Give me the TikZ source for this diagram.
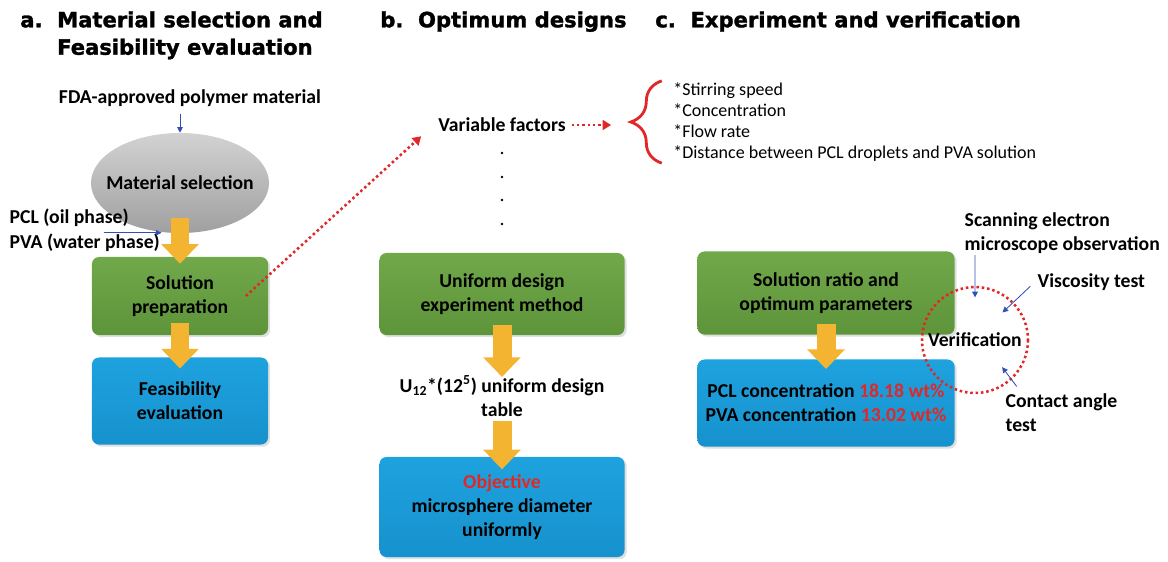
\documentclass[tikz,border=0pt]{standalone}
\usepackage{fontspec}
\setmainfont{Carlito}
\newfontfamily\headfont[FakeBold=1.5]{DejaVu Sans Bold}
\usetikzlibrary{positioning,calc,arrows.meta,shapes.geometric,shadows,decorations.pathreplacing}

\definecolor{boxgreen}{RGB}{112,168,74}
\definecolor{boxgreendark}{RGB}{94,148,58}
\definecolor{boxblue}{RGB}{30,162,222}
\definecolor{boxbluedark}{RGB}{22,146,206}
\definecolor{fatyellow}{RGB}{243,180,50}
\definecolor{dotred}{RGB}{225,40,40}
\definecolor{pointblue}{RGB}{50,80,180}

\tikzset{
  headline/.style={anchor=north west, align=left, inner sep=0pt, font=\headfont\fontsize{15}{19.5}\selectfont},
  txt/.style={align=center, inner sep=1pt, font=\bfseries\fontsize{14}{17}\selectfont},
  greenbox/.style={txt, rounded corners=5pt, top color=boxgreen, bottom color=boxgreendark,
    drop shadow={opacity=0.25, shadow xshift=1.5pt, shadow yshift=-1.5pt}},
  bluebox/.style={txt, rounded corners=5pt, top color=boxblue, bottom color=boxbluedark,
    drop shadow={opacity=0.25, shadow xshift=1.5pt, shadow yshift=-1.5pt}},
  fatarrow/.style={draw=fatyellow, line width=13.5pt, -{Triangle[width=26pt,length=14pt]}},
  reddots/.style={draw=dotred, line width=1.8pt, dotted, -{Triangle[width=7pt,length=6pt]}},
  pointer/.style={draw=pointblue, line width=0.6pt, -{Triangle[width=4pt,length=4pt]}},
}

\begin{document}
\begin{tikzpicture}[x=0.025cm, y=-0.025cm]
    \useasboundingbox (0,0) rectangle (1168,561);

    % Column titles
    \node[headline] (ta) at (20,11) {a.\ \ Material selection and\\\hphantom{a.\ \ }Feasibility evaluation};
    \node[headline] (tb) at (380,11) {b.\ \ Optimum designs};
    \node[headline] (tc) at (655,11) {c.\ \ Experiment and verification};

    % Column a
    \node[txt] (fda) at (190,98) {FDA-approved polymer material};
    \node[txt, ellipse, inner xsep=-9pt, minimum width=4.45cm, minimum height=2.5cm,
          top color=gray!35, bottom color=gray!75] (sel) at (180,183) {Material selection};
    \node[txt, anchor=west] (pcl) at (8,218) {PCL (oil phase)};
    \node[txt, anchor=west] (pva) at (8,243) {PVA (water phase)};
    \node[greenbox, minimum width=4.4cm, minimum height=1.95cm] (prep) at (180,296) {Solution\\preparation};
    \node[bluebox, minimum width=4.4cm, minimum height=2.175cm] (feas) at (180,401) {Feasibility\\evaluation};

    \draw[pointer, shorten <=4pt] (fda.south -| sel) -- (sel.north);
    \draw[pointer] ([xshift=-19pt,yshift=-3pt]pcl.south east) -- ([yshift=-3pt]pcl.south east -| pva.east);
    \draw[fatarrow] ([yshift=11pt]sel.south) -- ([yshift=-5pt]prep.north);
    \draw[fatarrow] ([yshift=9pt]prep.south) -- ([yshift=-8pt]feas.north);

    % Column b
    \node[txt] (var) at (502,125) {Variable factors};
    \foreach \dy in {153,177,200,224}
        \fill (502,\dy) circle (1.4);
    \node[greenbox, minimum width=6.125cm, minimum height=2.05cm] (uni) at (502,294) {Uniform design\\experiment method};
    \node[txt] (tab) at (502,396) {U$_{\mathbf{12}}$*(12$^{\mathbf{5}}$) uniform design\\table};
    \node[bluebox, minimum width=6.125cm, minimum height=2.5cm] (obj) at (502,507)
        {\textcolor{dotred}{Objective}\\microsphere diameter\\uniformly};

    \draw[fatarrow] ([yshift=7pt]uni.south) -- ([yshift=-2pt]tab.north);
    \draw[fatarrow] ([yshift=-2pt]tab.south) -- ([yshift=-9pt]obj.north);

    % Variable factor list with brace
    \node[anchor=west, align=left, inner sep=0pt, font=\fontsize{12.8}{15}\selectfont] (list) at (673,122)
        {*Stirring speed\\*Concentration\\*Flow rate\\*Distance between PCL droplets and PVA solution};
    \draw[dotred, line width=2pt, decorate, decoration={brace, amplitude=22pt}]
        ([xshift=-8pt,yshift=-1pt]list.south west) -- ([xshift=-8pt,yshift=1pt]list.north west);
    \coordinate (tip) at ([xshift=-44pt]list.west);

    \draw[reddots] ([xshift=-16pt]prep.east) -- ([shift={(-11pt,-8pt)}]var.west);
    \draw[reddots, shorten <=3pt] (var.east) -- (var.east -| tip);

    % Column c
    \node[greenbox, minimum width=6.425cm, minimum height=2.075cm] (ratio) at (826,293) {Solution ratio and\\optimum parameters};
    \node[bluebox, minimum width=6.425cm, minimum height=2.175cm] (conc) at (826,403)
        {PCL concentration \textcolor{dotred}{18.18 wt\%}\\PVA concentration \textcolor{dotred}{13.02 wt\%}};
    \draw[fatarrow] ([yshift=8pt]ratio.south) -- ([yshift=-7pt]conc.north);

    \node[txt, circle, minimum size=2.65cm] (ver) at (975,340) {Verification};
    \draw[dotred, line width=1.8pt, dotted] (ver) circle (53);

    \node[txt, anchor=west, align=left] (sem) at (963,233) {Scanning electron\\microscope observation};
    \node[txt, anchor=west] (visc) at (1036,282) {Viscosity test};
    \node[txt, anchor=north west, align=left] (cont) at (1004,392) {Contact angle\\test};

    \draw[pointer] (sem.south -| ver) -- ($(ver.center)!0.8!(ver.north)$);
    \draw[pointer] ([shift={(-4pt,-3pt)}]visc.west) -- ($(ver.center)!0.73!(ver.north east)$);
    \draw[pointer] ([shift={(9pt,4pt)}]cont.north west) -- ($(ver.center)!0.72!(ver.south east)$);
\end{tikzpicture}
\end{document}
